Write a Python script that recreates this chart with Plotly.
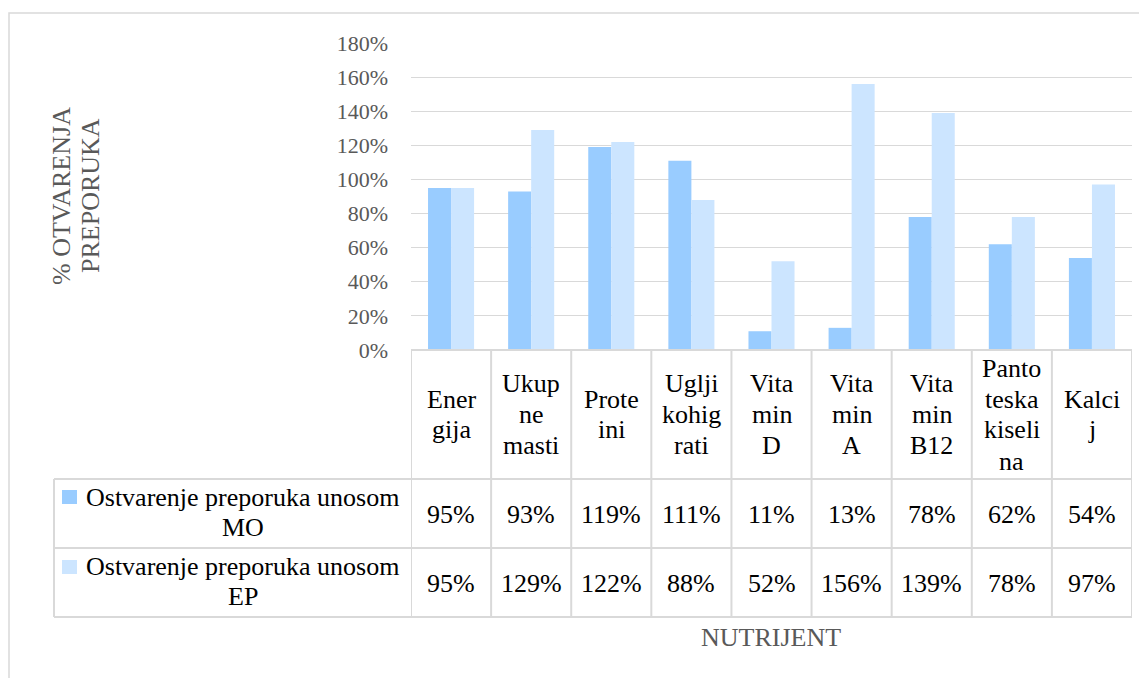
import plotly.graph_objects as go

# ---- data ----
categories = ["Ener<br>gija", "Ukup<br>ne<br>masti", "Prote<br>ini", "Uglji<br>kohig<br>rati",
              "Vita<br>min<br>D", "Vita<br>min<br>A", "Vita<br>min<br>B12",
              "Panto<br>teska<br>kiseli<br>na", "Kalci<br>j"]
series_names = ["Ostvarenje preporuka unosom<br>MO", "Ostvarenje preporuka unosom<br>EP"]
values_mo = [0.95, 0.93, 1.19, 1.11, 0.11, 0.13, 0.78, 0.62, 0.54]
values_ep = [0.95, 1.29, 1.22, 0.88, 0.52, 1.56, 1.39, 0.78, 0.97]
y_ticks = [0, 0.2, 0.4, 0.6, 0.8, 1.0, 1.2, 1.4, 1.6, 1.8]
y_title_lines = ["% OTVARENJA", "PREPORUKA"]
x_title = "NUTRIJENT"
colors = ["#99CCFF", "#CCE5FF"]

# page is offset by the default 8px body margin
OFF = 8
W, H = 1147 - OFF, 678 - OFF
def px(x):
    return (x - OFF) / W
def py(y):
    return 1 - (y - OFF) / H

FONT = "Liberation Serif"
GRAY = "#595959"
LINE = "#D9D9D9"

idx = list(range(len(categories)))
series_vals = [values_mo, values_ep]

fig = go.Figure()
for name, vals, col in zip(series_names, series_vals, colors):
    fig.add_trace(go.Bar(x=idx, y=vals, name=name.replace("<br>", " "),
                         marker=dict(color=col, line=dict(width=0)),
                         showlegend=False, hoverinfo="skip"))

shapes = []
annotations = []

# outer chart border
shapes.append(dict(type="rect", xref="paper", yref="paper", x0=px(9), x1=1.05,
                   y0=py(13), y1=-0.05, line=dict(color=LINE, width=1.5), layer="below"))

# data table horizontal lines
shapes.append(dict(type="line", xref="paper", yref="paper", x0=px(411), x1=px(1132),
                   y0=py(350), y1=py(350), line=dict(color=LINE, width=2)))
for yy in [479, 548, 617]:
    shapes.append(dict(type="line", xref="paper", yref="paper", x0=px(54), x1=px(1132),
                       y0=py(yy), y1=py(yy), line=dict(color=LINE, width=2)))
# vertical lines at category boundaries
for i in range(len(categories) + 1):
    shapes.append(dict(type="line", xref="x", yref="paper", x0=i - 0.5, x1=i - 0.5,
                       y0=py(350), y1=py(617), line=dict(color=LINE, width=2)))
shapes.append(dict(type="line", xref="paper", yref="paper", x0=px(54), x1=px(54),
                   y0=py(479), y1=py(617), line=dict(color=LINE, width=2)))

# category header labels
for i, cat in enumerate(categories):
    lines = cat.split("<br>")
    n = len(lines)
    for k, t in enumerate(lines):
        yc = 414.5 + (k - (n - 1) / 2) * 31
        annotations.append(dict(text=t, xref="x", yref="paper", x=i, y=py(yc),
                                xanchor="center", yanchor="middle", showarrow=False,
                                font=dict(family=FONT, size=26, color="black")))

# value rows + legend cells
row_centers = [514, 583]
row_line1 = [497, 566]
for r, (name, vals, col) in enumerate(zip(series_names, series_vals, colors)):
    for i, v in enumerate(vals):
        annotations.append(dict(text=f"{round(v*100)}%", xref="x", yref="paper", x=i,
                                y=py(row_centers[r]), xanchor="center", yanchor="middle",
                                showarrow=False, font=dict(family=FONT, size=26, color="black")))
    l1, l2 = name.split("<br>")
    annotations.append(dict(text=l1, xref="paper", yref="paper", x=px(243), y=py(row_line1[r]),
                            xanchor="center", yanchor="middle", showarrow=False,
                            font=dict(family=FONT, size=26, color="black")))
    annotations.append(dict(text=l2, xref="paper", yref="paper", x=px(243), y=py(row_line1[r] + 30),
                            xanchor="center", yanchor="middle", showarrow=False,
                            font=dict(family=FONT, size=26, color="black")))
    sy = 490 + r * 70
    shapes.append(dict(type="rect", xref="paper", yref="paper", x0=px(62), x1=px(77),
                       y0=py(sy), y1=py(sy + 14), fillcolor=col, line=dict(width=0)))

# axis titles
for k, t in enumerate(y_title_lines):
    annotations.append(dict(text=t, xref="paper", yref="paper", x=px(61 + 29 * k), y=py(196),
                            xanchor="center", yanchor="middle", textangle=-90, showarrow=False,
                            font=dict(family=FONT, size=26, color=GRAY)))
annotations.append(dict(text=x_title, xref="paper", yref="paper", x=px(771), y=py(637),
                        xanchor="center", yanchor="middle", showarrow=False,
                        font=dict(family=FONT, size=26, color=GRAY)))

fig.update_layout(
    width=W, height=H, autosize=False,
    margin=dict(l=0, r=0, t=0, b=0, pad=0, autoexpand=False),
    paper_bgcolor="white", plot_bgcolor="white",
    barmode="group", bargap=0.425, bargroupgap=0,
    shapes=shapes, annotations=annotations,
    xaxis=dict(domain=[px(411), px(1132)], range=[-0.5, len(categories) - 0.5],
               showticklabels=False, showgrid=False, zeroline=False, showline=False,
               automargin=False, fixedrange=True),
    yaxis=dict(domain=[py(350), py(43)], range=[0, 1.8], tickvals=y_ticks,
               tickformat=".0%", showgrid=True, gridcolor=LINE, gridwidth=1.3,
               zeroline=False, showline=False, ticks="", ticklabelstandoff=22,
               automargin=False,
               tickfont=dict(family=FONT, size=22, color=GRAY), fixedrange=True),
    font=dict(family=FONT),
)

fig.write_html("out.html")
